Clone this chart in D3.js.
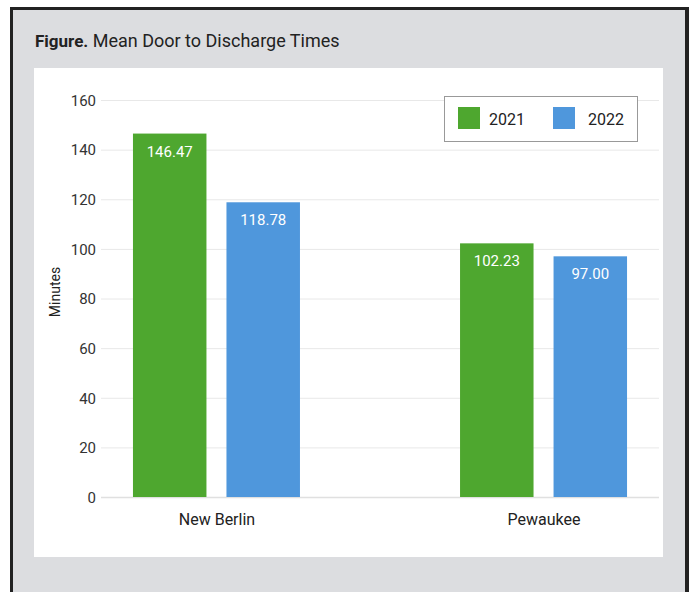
<!DOCTYPE html>
<html><head><meta charset="utf-8">
<script src="https://cdn.jsdelivr.net/npm/d3@7"></script>
<style>
html,body{margin:0;padding:0;background:#fff;}
svg{display:block;font-family:Roboto,"Liberation Sans",sans-serif;}
</style></head>
<body>
<svg id="c" width="689" height="592"></svg>
<script>
const categories = ["New Berlin", "Pewaukee"];
const seriesNames = ["2021", "2022"];
const values2021 = [146.47, 102.23];
const values2022 = [118.78, 97.00];
const yTicks = [0, 20, 40, 60, 80, 100, 120, 140, 160];
const colors = ["#4ea72f", "#4f97dc"];

const svg = d3.select("#c");
// frame
svg.append("rect").attr("x",10).attr("y",7).attr("width",679).attr("height",600).attr("fill","#222");
svg.append("rect").attr("x",13).attr("y",10).attr("width",672).attr("height",600).attr("fill","#dcdde0");
// white panel
svg.append("rect").attr("x",34).attr("y",68).attr("width",629).attr("height",489).attr("fill","#fff");

// title
const t = svg.append("text").attr("x",35).attr("y",46.5).attr("fill","#222");
t.append("tspan").attr("font-weight","bold").attr("font-size",17).text("Figure.");
t.append("tspan").attr("font-size",18).text(" Mean Door to Discharge Times");

const x0 = 101, x1 = 659;
const y = d3.scaleLinear().domain([0,160]).range([497,100]);
const xc = d3.scalePoint().domain(categories).range([x0,x1]).padding(0.353);
const xs = d3.scaleBand().domain(seriesNames).range([-83.5,83.5]).paddingInner(0.214).paddingOuter(0);

// grid
const g = svg.append("g");
g.selectAll("line.grid").data(yTicks).join("line")
  .attr("x1",x0).attr("x2",x1)
  .attr("y1",d=>y(d)+0.5).attr("y2",d=>y(d)+0.5)
  .attr("stroke",d=>d===0?"#e0e0e0":"#e8e8e8").attr("stroke-width",d=>d===0?1.5:1);

// y axis labels
const yAxis = d3.axisLeft(y).tickValues(yTicks).tickSize(0).tickPadding(0);
const ya = svg.append("g").attr("transform","translate(96,0)").call(yAxis);
ya.select(".domain").remove();
ya.selectAll("text").attr("font-size",15).attr("fill","#333").attr("font-family","Roboto, sans-serif").attr("dy","0.35em");

// y title
svg.append("text").attr("transform","translate(60,292) rotate(-90)")
  .attr("text-anchor","middle").attr("font-size",14).attr("fill","#222").text("Minutes");

// x axis labels
const xAxis = d3.axisBottom(xc).tickSize(0).tickPadding(0);
const xa = svg.append("g").attr("transform","translate(0,525)").call(xAxis);
xa.select(".domain").remove();
xa.selectAll("text").attr("font-size",16).attr("fill","#222").attr("font-family","Roboto, sans-serif").attr("dy","0");

// bars
const series = [values2021, values2022];
const data = [];
categories.forEach((c,i)=>seriesNames.forEach((s,j)=>data.push({c,s,v:series[j][i],j})));
const bars = svg.append("g");
bars.selectAll("rect").data(data).join("rect")
  .attr("x",d=>xc(d.c)+xs(d.s)).attr("width",xs.bandwidth())
  .attr("y",d=>y(d.v)).attr("height",d=>y(0)-y(d.v))
  .attr("fill",d=>colors[d.j]);
bars.selectAll("text").data(data).join("text")
  .attr("x",d=>xc(d.c)+xs(d.s)+xs.bandwidth()/2).attr("y",d=>y(d.v)+23)
  .attr("text-anchor","middle").attr("font-size",15).attr("fill","#fff").text(d=>d.v.toFixed(2));

// legend
const lg = svg.append("g");
lg.append("rect").attr("x",444.5).attr("y",96.5).attr("width",193).attr("height",45)
  .attr("fill","#fff").attr("stroke","#999").attr("stroke-width",1);
const items = lg.selectAll("g").data(seriesNames).join("g")
  .attr("transform",(d,i)=>`translate(${458+i*95},107)`);
items.append("rect").attr("width",22).attr("height",22).attr("fill",(d,i)=>colors[i]);
items.append("text").attr("x",(d,i)=>i===0?31:35).attr("y",18).attr("font-size",16).attr("fill","#222").text(d=>d);
</script>
</body></html>
